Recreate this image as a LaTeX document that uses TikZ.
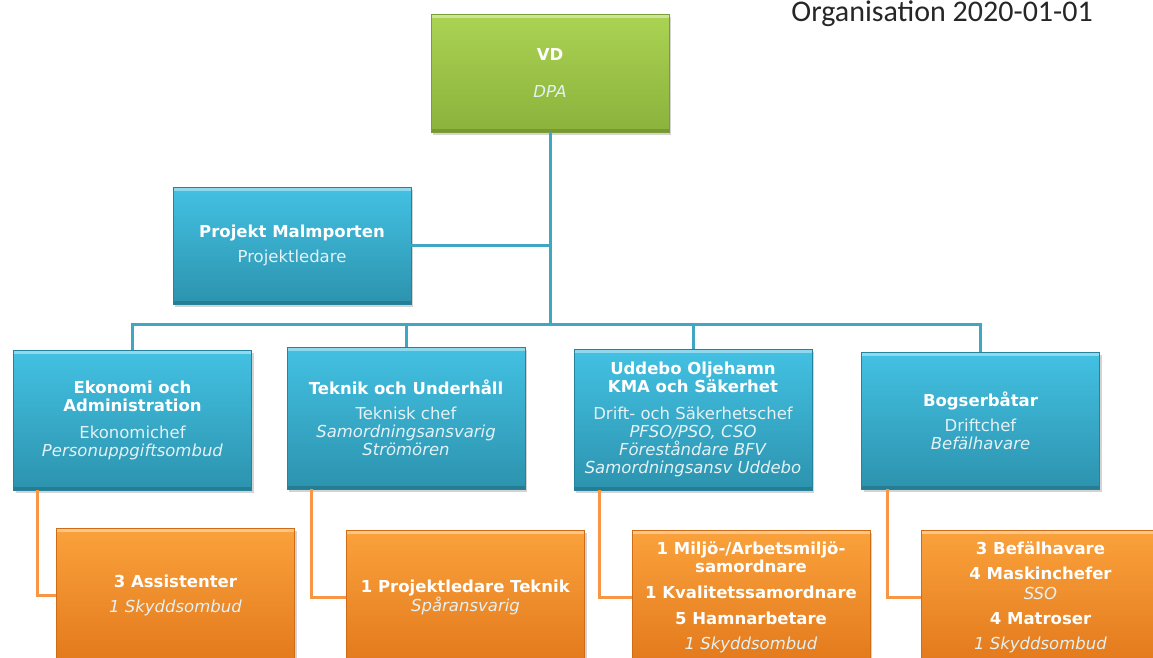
\documentclass[tikz,border=0pt]{standalone}
\usepackage{fontspec}
\setmainfont{DejaVu Sans}
\newfontfamily\titlefont{Carlito}
\usepackage{xcolor}
\usetikzlibrary{shadows}
\definecolor{VD_Top}{HTML}{ABD353}
\definecolor{VD_Bottom}{HTML}{8BB23C}
\definecolor{VD_Edge}{HTML}{7A9E33}
\definecolor{Unit_Top}{HTML}{43C1E3}
\definecolor{Unit_Bottom}{HTML}{2C93AE}
\definecolor{Unit_Edge}{HTML}{25829A}
\definecolor{Staff_Top}{HTML}{FAA23C}
\definecolor{Staff_Bottom}{HTML}{E3791C}
\definecolor{Staff_Edge}{HTML}{D06C15}
\definecolor{Link_Blue}{HTML}{3FA7C4}
\definecolor{Link_Orange}{HTML}{F79646}
\definecolor{Sub_Text}{HTML}{E4F1F5}
\newcommand{\role}[1]{\textcolor{Sub_Text}{#1}}
\newcommand{\duty}[1]{\textcolor{Sub_Text}{\textit{#1}}}

\begin{document}
\begin{tikzpicture}[x=1pt, y=-1pt,
    font=\fontsize{16.5}{18}\selectfont,
    bevel/.style={path picture={
        \draw[white, opacity=0.4, line width=7pt] (path picture bounding box.north west) -- (path picture bounding box.north east);
        \draw[black, opacity=0.15, line width=6pt] (path picture bounding box.south west) -- (path picture bounding box.south east);}},
    unit/.style={draw=Unit_Edge, line width=0.6pt, top color=Unit_Top, bottom color=Unit_Bottom,
        text=white, align=center, minimum width=238pt, minimum height=140pt, inner sep=2pt, bevel,
        drop shadow={opacity=0.35, shadow xshift=2pt, shadow yshift=-3pt}},
    chief/.style={unit, draw=VD_Edge, top color=VD_Top, bottom color=VD_Bottom, minimum height=118pt},
    staff/.style={unit, draw=Staff_Edge, top color=Staff_Top, bottom color=Staff_Bottom, minimum height=134pt},
    bluelink/.style={line width=3pt, Link_Blue},
    orangelink/.style={line width=3pt, Link_Orange}]

    \useasboundingbox (0,0) rectangle (1153,657);

    % Title
    \node[anchor=base east, inner sep=0pt, text=black!85, font=\titlefont\fontsize{30}{30}\selectfont]
        (title) at (1093,21) {Organisation 2020-01-01};

    % Top level
    \node[chief] (vd) at (550,73) {\textbf{VD}\\[19pt]\duty{DPA}};

    % Project
    \node[unit, minimum height=117pt] (proj) at (292,245.5)
        {\textbf{Projekt Malmporten}\\[7pt]\role{Projektledare}};

    % Departments
    \node[unit] (eko) at (132.5,420)
        {\textbf{Ekonomi och}\\\textbf{Administration}\\[9pt]\role{Ekonomichef}\\\duty{Personuppgiftsombud}};
    \node[unit, minimum height=142pt] (tek) at (406,418)
        {\textbf{Teknik och Underhåll}\\[7pt]\role{Teknisk chef}\\\duty{Samordningsansvarig}\\\duty{Strömören}};
    \node[unit, minimum height=141pt] (udd) at (693,419.5)
        {\textbf{Uddebo Oljehamn}\\\textbf{KMA och Säkerhet}\\[9pt]\role{Drift- och Säkerhetschef}\\\duty{PFSO/PSO, CSO}\\\duty{Föreståndare BFV}\\\duty{Samordningsansv Uddebo}};
    \node[unit, minimum height=137pt] (bog) at (980.5,420.5)
        {\textbf{Bogserbåtar}\\[7pt]\role{Driftchef}\\\duty{Befälhavare}};

    % Staff
    \node[staff] (ass) at (175.5,595)
        {\textbf{3 Assistenter}\\[7pt]\duty{1 Skyddsombud}};
    \node[staff] (ptek) at (465.5,597)
        {\textbf{1 Projektledare Teknik}\\\duty{Spåransvarig}};
    \node[staff] (hamn) at (751,597)
        {\textbf{1 Miljö-/Arbetsmiljö-}\\\textbf{samordnare}\\[8pt]\textbf{1 Kvalitetssamordnare}\\[8pt]\textbf{5 Hamnarbetare}\\[7pt]\duty{1 Skyddsombud}};
    \node[staff] (besat) at (1040.5,597)
        {\textbf{3 Befälhavare}\\[7pt]\textbf{4 Maskinchefer}\\[2pt]\duty{SSO}\\[7pt]\textbf{4 Matroser}\\[7pt]\duty{1 Skyddsombud}};

    % Blue connectors
    \coordinate (bus) at (vd.south |- 0,324);
    \draw[bluelink] (vd.south) -- (bus);
    \draw[bluelink] (proj.east) -- (proj.east -| bus);
    \draw[bluelink] (eko.north) |- (bus) -| (bog.north);
    \draw[bluelink] (tek.north) -- (tek.north |- bus);
    \draw[bluelink] (udd.north) -- (udd.north |- bus);

    % Orange connectors
    \draw[orangelink] ([xshift=24pt]eko.south west) |- (ass.west);
    \draw[orangelink] ([xshift=25pt]tek.south west) |- (ptek.west);
    \draw[orangelink] ([xshift=26pt]udd.south west) |- (hamn.west);
    \draw[orangelink] ([xshift=26pt]bog.south west) |- (besat.west);

\end{tikzpicture}
\end{document}
